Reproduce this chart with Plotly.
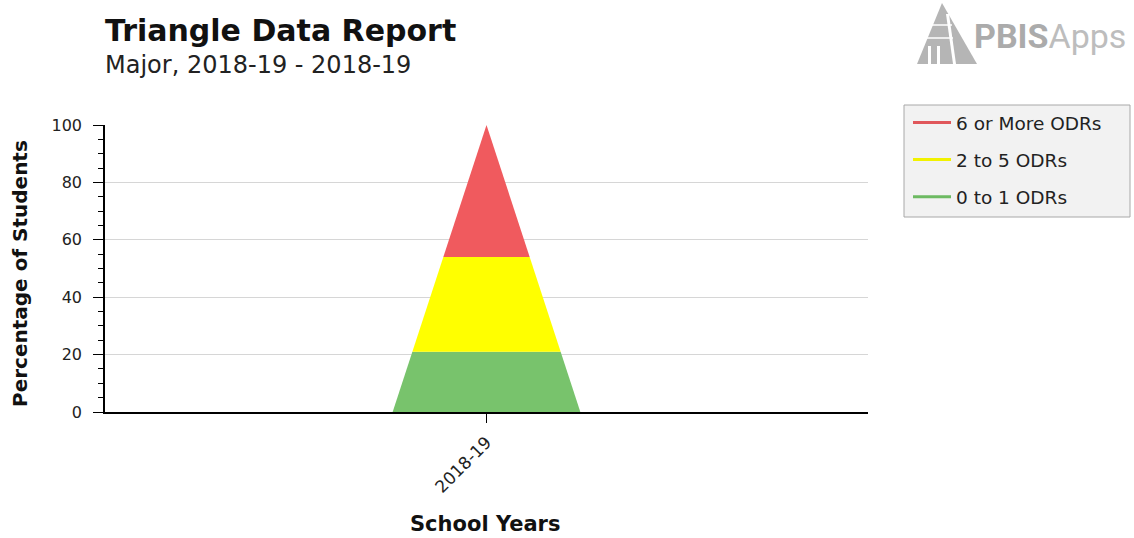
import plotly.graph_objects as go

# ---- data ----
school_years = ["2018-19"]
categories = ["0 to 1 ODRs", "2 to 5 ODRs", "6 or More ODRs"]
percentages = [21, 33, 46]          # bottom -> top
colors = ["#78C36C", "#FFFF00", "#F05A5E"]
legend_colors = ["#6DBA62", "#F2F200", "#E0575B"]
y_ticks = [0, 20, 40, 60, 80, 100]

# ---- layout constants ----
W, H = 1134, 538
L, R, T, B = 105, 868, 125, 412
HALF_WIDTH = 0.123  # half-width of triangle base in x-axis units


def px_x(p):
    return (p - L) / (R - L)


def px_y(p):
    return (B - p) / (B - T)


FONT = "DejaVu Sans"

fig = go.Figure()

# triangle segments
cum = [0]
for v in percentages:
    cum.append(cum[-1] + v)
for i, name in enumerate(categories):
    b0, b1 = cum[i], cum[i + 1]
    w0 = HALF_WIDTH * (1 - b0 / 100)
    w1 = HALF_WIDTH * (1 - b1 / 100)
    xs = [-w0, w0, w1, -w1, -w0] if w1 > 1e-9 else [-w0, w0, 0, -w0]
    ys = [b0, b0, b1, b1, b0] if w1 > 1e-9 else [b0, b0, b1, b0]
    fig.add_trace(go.Scatter(
        x=xs, y=ys, mode="lines", fill="toself", fillcolor=colors[i],
        line=dict(width=0, color=colors[i]), showlegend=False, hoverinfo="skip",
    ))

# legend entries (top to bottom: red, yellow, green)
for i in reversed(range(len(categories))):
    fig.add_trace(go.Scatter(
        x=[None], y=[None], mode="lines", name=categories[i],
        line=dict(color=legend_colors[i], width=3),
        legendgroup=categories[i], showlegend=True,
    ))

shapes = [
    # legend box
    dict(type="rect", xref="paper", yref="paper",
         x0=px_x(904), x1=px_x(1130), y0=px_y(217), y1=px_y(105),
         fillcolor="#F2F2F2", line=dict(color="#A8A8A8", width=1), layer="below"),
    # logo triangle
    dict(type="path", xref="paper", yref="paper",
         path=f"M {px_x(917)},{px_y(64)} L {px_x(942)},{px_y(3)} L {px_x(977)},{px_y(64)} Z",
         fillcolor="#B5B5B5", line=dict(width=0)),
    # logo white details
    dict(type="path", xref="paper", yref="paper",
         path=f"M {px_x(946)},{px_y(14)} L {px_x(949)},{px_y(14)} L {px_x(956)},{px_y(64)} L {px_x(953)},{px_y(64)} Z",
         fillcolor="white", line=dict(width=0)),
    dict(type="line", xref="paper", yref="paper",
         x0=px_x(930), x1=px_x(952), y0=px_y(25), y1=px_y(25),
         line=dict(color="white", width=1.5)),
    dict(type="line", xref="paper", yref="paper",
         x0=px_x(925), x1=px_x(953), y0=px_y(38), y1=px_y(38),
         line=dict(color="white", width=1.5)),
    dict(type="rect", xref="paper", yref="paper",
         x0=px_x(928), x1=px_x(931), y0=px_y(64), y1=px_y(46),
         fillcolor="white", line=dict(width=0)),
    dict(type="rect", xref="paper", yref="paper",
         x0=px_x(937), x1=px_x(940), y0=px_y(64), y1=px_y(46),
         fillcolor="white", line=dict(width=0)),
]

annotations = [
    dict(text="<b>Triangle Data Report</b>", xref="paper", yref="paper",
         x=px_x(103), y=px_y(30), xanchor="left", yanchor="middle", showarrow=False,
         font=dict(family=FONT, size=30, color="#111111")),
    dict(text="Major, 2018-19 - 2018-19", xref="paper", yref="paper",
         x=px_x(103), y=px_y(65), xanchor="left", yanchor="middle", showarrow=False,
         font=dict(family=FONT, size=24, color="#222222")),
    dict(text="<b>Percentage of Students</b>", xref="paper", yref="paper",
         x=px_x(20), y=px_y(274), xanchor="center", yanchor="middle", textangle=-90,
         showarrow=False, font=dict(family=FONT, size=20, color="#111111")),
    dict(text="<b>School Years</b>", xref="paper", yref="paper",
         x=px_x(485), y=px_y(524), xanchor="center", yanchor="middle",
         showarrow=False, font=dict(family=FONT, size=21, color="#111111")),
    dict(text="<b>PBIS</b><span style='color:#BDBDBD'>Apps</span>", xref="paper", yref="paper",
         x=px_x(972), y=px_y(36), xanchor="left", yanchor="middle", showarrow=False,
         font=dict(family="Roboto", size=34, color="#ABABAB")),
]

fig.update_layout(
    width=W, height=H,
    margin=dict(l=L, r=W - R, t=T, b=H - B),
    paper_bgcolor="white", plot_bgcolor="white",
    font=dict(family=FONT, size=16, color="#222222"),
    showlegend=True,
    legend=dict(
        x=px_x(908), y=px_y(104), xanchor="left", yanchor="top",
        bgcolor="rgba(0,0,0,0)", borderwidth=0,
        font=dict(family=FONT, size=18.5, color="#222222"),
        traceorder="grouped", tracegroupgap=10, itemwidth=38,
    ),
    xaxis=dict(
        range=[-0.5, 0.5], tickvals=[0], ticktext=school_years, tickangle=-45,
        showgrid=False, zeroline=False, showline=True, linecolor="black", linewidth=1.5,
        ticks="outside", ticklen=9, tickcolor="black", tickwidth=1,
        ticklabelstandoff=3,
        tickfont=dict(family=FONT, size=17, color="#222222"), fixedrange=True,
    ),
    yaxis=dict(
        range=[0, 100], tickvals=y_ticks, showgrid=True, gridcolor="#D6D6D6", gridwidth=1,
        zeroline=False, showline=True, linecolor="black", linewidth=1.5,
        ticks="outside", ticklen=10, tickcolor="black", tickwidth=1,
        ticklabelstandoff=8,
        minor=dict(dtick=5, ticks="outside", ticklen=5, tickcolor="black", showgrid=False),
        tickfont=dict(family=FONT, size=16, color="#222222"), fixedrange=True,
    ),
    shapes=shapes,
    annotations=annotations,
)

fig.write_html("out.html")
